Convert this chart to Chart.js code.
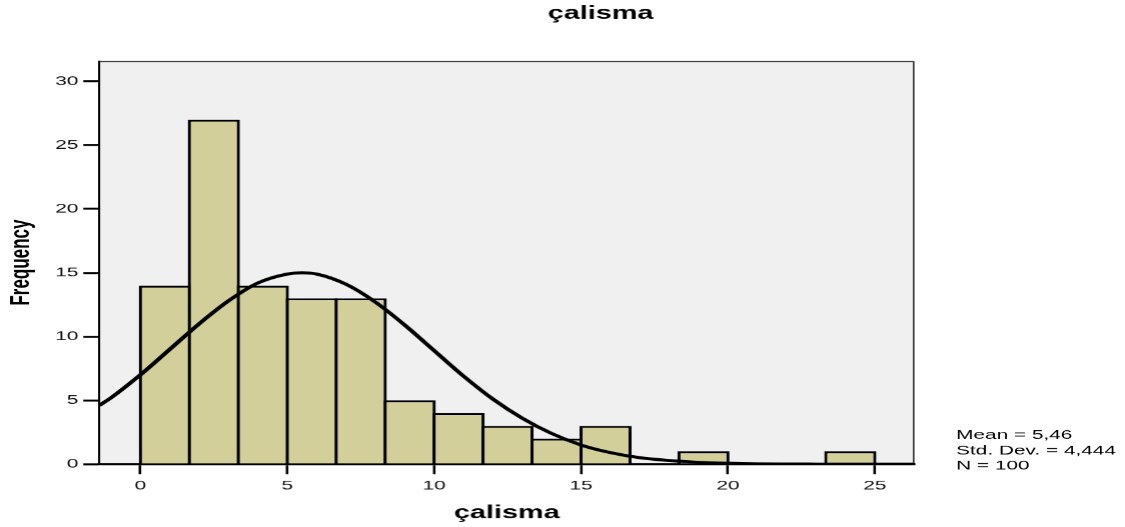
<!DOCTYPE html>
<html>
<head>
<meta charset="utf-8">
<script src="https://cdn.jsdelivr.net/npm/chart.js@4/dist/chart.umd.min.js"></script>
<style>
  html, body { margin: 0; padding: 0; background: #fff; }
</style>
</head>
<body>
<canvas id="hist" width="703" height="527" style="width:1125px;height:527px"></canvas>
<script>
// bins of width 5/3 starting at 0
const binStarts = [0, 5/3, 10/3, 5, 20/3, 25/3, 10, 35/3, 40/3, 15, 50/3, 55/3, 20, 65/3, 70/3];
const binWidth = 5/3;
const frequencies = [14, 27, 14, 13, 13, 5, 4, 3, 2, 3, 0, 1, 0, 0, 1];

// normal curve
const curveX = [-1.4, -1, 0, 1, 2, 3, 4, 5, 5.5, 6, 7, 8, 9, 10, 11, 12, 13, 14, 15, 16, 17, 18, 19, 20, 21, 22, 23, 24, 26.35];
const curveY = [4.6, 5.2, 7.0, 9.0, 11.0, 12.8, 14.2, 14.9, 15.0, 14.9, 14.1, 12.7, 10.9, 8.9, 6.9, 5.1, 3.6, 2.4, 1.5, 0.9, 0.5, 0.28, 0.14, 0.07, 0.03, 0.015, 0.006, 0, 0];

const xTicks = [0, 5, 10, 15, 20, 25];
const statsLines = ['Mean = 5,46', 'Std. Dev. = 4,444', 'N = 100'];
const chartTitle = 'çalisma';
const xTitle = 'çalisma';
const yTitle = 'Frequency';

const FONT = '"Liberation Sans", Arial, sans-serif';

const frame = {
  id: 'frame',
  beforeDraw(chart) {
    const { ctx, chartArea: a } = chart;
    ctx.save();
    ctx.fillStyle = '#f0f0f0';
    ctx.fillRect(a.left, a.top, a.right - a.left, a.bottom - a.top);
    ctx.strokeStyle = '#333';
    ctx.lineWidth = 1;
    ctx.strokeRect(a.left, a.top + 0.5, a.right - a.left - 0.5, a.bottom - a.top);
    ctx.restore();
  },
  afterDraw(chart) {
    const { ctx } = chart;
    ctx.save();
    ctx.fillStyle = '#000';
    ctx.font = 'bold 18px ' + FONT;
    ctx.textAlign = 'center';
    ctx.textBaseline = 'middle';
    ctx.fillText(chartTitle, 375, 14);
    ctx.font = '13px ' + FONT;
    ctx.textAlign = 'left';
    statsLines.forEach((t, i) => ctx.fillText(t, 597, 435 + i * 15.5));
    ctx.restore();
  }
};

const chart = new Chart(document.getElementById('hist'), {
  type: 'bar',
  data: {
    datasets: [
      {
        type: 'line',
        data: curveX.map((x, i) => ({ x: x, y: curveY[i] })),
        borderColor: '#000',
        borderWidth: 3,
        pointRadius: 0,
        cubicInterpolationMode: 'monotone',
        fill: false,
        order: 0
      },
      {
        type: 'bar',
        data: binStarts.map((s, i) => ({ x: s + binWidth / 2, y: frequencies[i] })),
        backgroundColor: '#d3cf9a',
        borderColor: '#000',
        borderWidth: 2,
        barPercentage: 1.065,
        categoryPercentage: 1,
        order: 1
      }
    ]
  },
  options: {
    responsive: false,
    devicePixelRatio: 1.6,
    animation: false,
    layout: { padding: { top: 61, right: 132, left: 0, bottom: 0 } },
    plugins: {
      legend: { display: false },
      tooltip: { enabled: false }
    },
    scales: {
      x: {
        type: 'linear',
        offset: false,
        min: -1.4,
        max: 26.35,
        afterFit: s => { s.height = 63; },
        afterBuildTicks: s => { s.ticks = xTicks.map(v => ({ value: v })); },
        ticks: { color: '#111', font: { family: FONT, size: 13 }, padding: 4, maxRotation: 0 },
        grid: { offset: false, drawOnChartArea: false, drawTicks: true, tickLength: 10, tickColor: '#000', tickWidth: 1.6 },
        border: { color: '#000', width: 2 },
        title: {
          display: true, text: xTitle, color: '#000',
          font: { family: FONT, size: 18, weight: 'bold' },
          padding: { top: 0, bottom: 3 }
        }
      },
      y: {
        type: 'linear',
        min: 0,
        max: 31.6,
        afterFit: s => { s.width = 62; },
        ticks: { stepSize: 5, includeBounds: false, color: '#111', font: { family: FONT, size: 13 }, padding: 3 },
        grid: { drawOnChartArea: false, drawTicks: true, tickLength: 10, tickColor: '#000', tickWidth: 2 },
        border: { color: '#000', width: 1.3 },
        title: {
          display: true, text: yTitle, color: '#000',
          font: { family: FONT, size: 17, weight: 'bold' },
          padding: { top: 3, bottom: 0 }
        }
      }
    }
  },
  plugins: [frame]
});

chart.canvas.style.width = '1125px';
chart.canvas.style.height = '527px';
</script>
</body>
</html>
